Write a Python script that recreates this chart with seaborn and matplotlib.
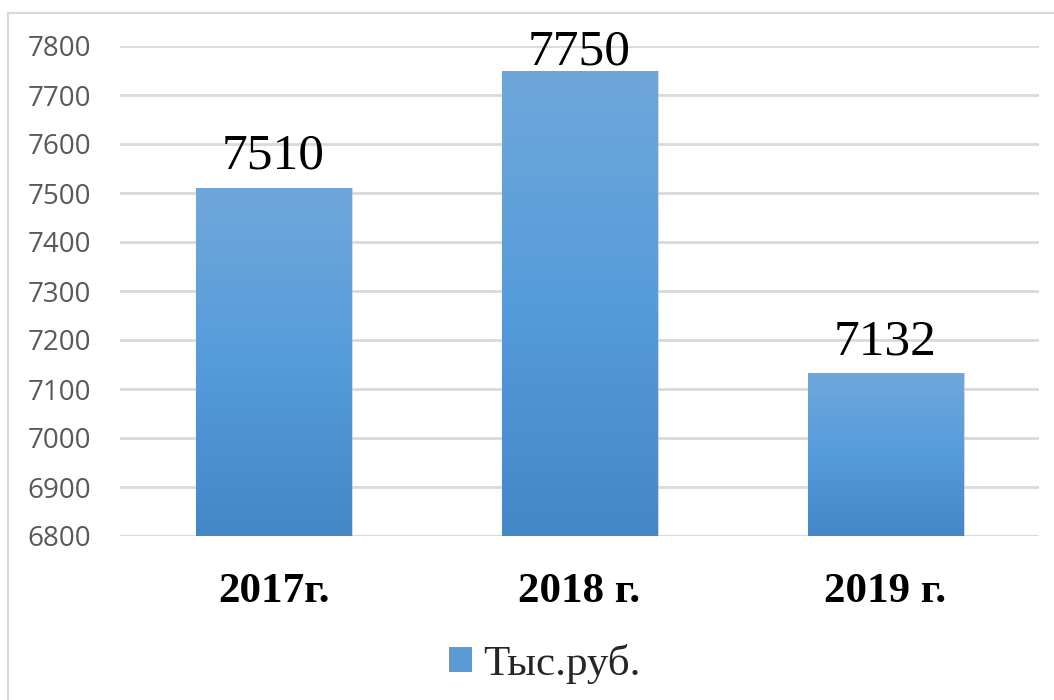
import matplotlib
matplotlib.use("Agg")
import matplotlib.pyplot as plt
import seaborn as sns
import numpy as np
import pandas as pd
from matplotlib.colors import LinearSegmentedColormap
from matplotlib.patches import Rectangle

categories = ["2017г.", "2018 г.", "2019 г."]
values = [7510, 7750, 7132]
series_name = "Тыс.руб."
yticks = [6800, 6900, 7000, 7100, 7200, 7300, 7400, 7500, 7600, 7700, 7800]

df = pd.DataFrame({"cat": categories, "val": values})

sns.set_theme(style="white")
fig = plt.figure(figsize=(10.54, 7.0), dpi=100)
ax = fig.add_axes([120.5/1054, 1 - 536/700, (1038.5-120.5)/1054, (536-46)/700])

sns.barplot(data=df, x="cat", y="val", ax=ax, width=0.507, color="#5b9bd5",
            edgecolor="none", zorder=3)
ax.set_ylim(6800, 7800)
ax.set_xlim(-0.5, 2.5)

cmap = LinearSegmentedColormap.from_list("g", ["#4387c7", "#559cdc", "#70a7da"])
grad = np.linspace(0, 1, 256).reshape(-1, 1)
for p in ax.patches:
    x0, y0 = p.get_x(), p.get_y()
    w, h = p.get_width(), p.get_height()
    top = y0 + h
    sh = Rectangle((x0 + 0.006, 6800), w, top - 6800, facecolor="#bfbfbf",
                   alpha=0.6, zorder=2, edgecolor="none",
                   transform=ax.transData)
    ax.add_patch(sh)
    im = ax.imshow(grad, cmap=cmap, aspect="auto", origin="lower",
                   extent=[x0, x0 + w, 6800, top], zorder=3.5)
    im.set_clip_path(p)
    ly = min(top + 39, 7762)
    ax.text(x0 + w / 2, ly, f"{int(round(top))}", ha="center", va="baseline",
            fontsize=37, family="Liberation Serif", color="#000000", zorder=5)
ax.set_xlim(-0.5, 2.5)
ax.set_ylim(6800, 7800)

ax.set_yticks(yticks)
ax.set_yticklabels([str(t) for t in yticks], family="Open Sans", fontsize=20, color="#595959")
ax.tick_params(axis="y", length=0, pad=21)
ax.tick_params(axis="x", length=0, pad=27)
ax.set_xticks(range(len(categories)))
ax.set_xticklabels(categories, family="Liberation Serif", fontsize=31,
                   fontweight="bold", color="#000000")
ax.yaxis.grid(True, color="#d9d9d9", linewidth=2, zorder=0)
ax.set_axisbelow(True)
for s in ax.spines.values():
    s.set_visible(False)
ax.set_xlabel("")
ax.set_ylabel("")

ax.axhline(6800, color="#d9d9d9", linewidth=2, zorder=1)

handle = Rectangle((0, 0), 1, 1, facecolor="#5b9bd5", edgecolor="none")
fig.legend([handle], [series_name], loc="center", bbox_to_anchor=(545/1054, 1 - 664/700),
           frameon=False, prop={"family": "Liberation Serif", "size": 31},
           handlelength=0.53, handleheight=0.53, handletextpad=0.25)

fig.patches.append(Rectangle((8/1054, -0.1), 1.1, 1 - 13/700 + 0.1, transform=fig.transFigure,
                             facecolor="none", edgecolor="#d9d9d9", linewidth=1.5))

fig.savefig("out.png", dpi=100, facecolor="white")
